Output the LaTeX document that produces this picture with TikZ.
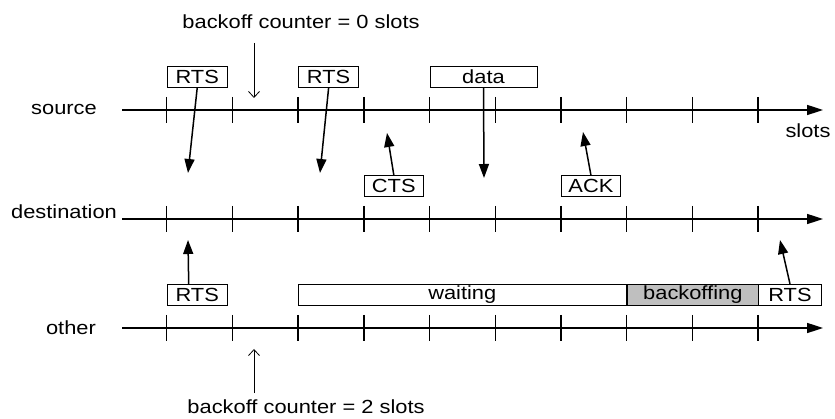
\documentclass[tikz,border=0pt]{standalone}
\usepackage{fontspec}
\setmainfont{Liberation Sans}[FakeStretch=1.15]
\usepackage{tikz}
\usetikzlibrary{arrows.meta}
\tikzset{
    time-axis/.style = {line width=1.6pt, -{Triangle[length=16pt,width=10pt]}},
    slot-tick/.style = {line width=1.4pt},
    msg-box/.style = {draw, line width=1pt, rectangle, inner sep=0pt, minimum height=21pt, anchor=south west},
    busy-box/.style = {msg-box, fill=black!25},
    msg-arrow/.style = {line width=1.5pt, -{Triangle[length=14pt,width=10pt]}},
    note-arrow/.style = {line width=0.8pt, -{Straight Barb[length=6pt,width=11pt]}},
}

\begin{document}
\begin{tikzpicture}[x=1pt, y=-1pt, font=\fontsize{19pt}{22pt}\selectfont]
\useasboundingbox (0,0) rectangle (835,419);
\def\slotw{65.7}
\foreach \row/\y in {src/110, dst/219, oth/328} {
    \draw[time-axis] (122,\y) -- (823,\y);
    \foreach \i in {0,...,9} {
        \draw[slot-tick] ({166.7+\slotw*\i},\y-13) -- ++(0,26);
        \coordinate (\row-\i) at ({166.7+\slotw*\i},\y-22);
    }
}
\node (src-label) at (64,109) {source};
\node (dst-label) at (64,212) {destination};
\node (oth-label) at (71,328) {other};
\node (slots-label) at (808,131) {slots};

% source
\node[msg-box, minimum width=60pt] (src-rts1) at (src-0) {RTS};
\node[msg-box, minimum width=60pt] (src-rts2) at (src-2) {RTS};
\node[msg-box, minimum width=107pt] (src-data) at (src-4) {data};
% destination
\node[msg-box, minimum width=59pt] (dst-cts) at (dst-3) {CTS};
\node[msg-box, minimum width=59pt] (dst-ack) at (dst-6) {ACK};
% other
\node[msg-box, minimum width=60pt] (oth-rts1) at (oth-0) {RTS};
\node[msg-box, minimum width=327.4pt] (oth-wait) at (oth-2) {waiting};
\node[busy-box, minimum width=131.4pt] (oth-backoff) at (oth-7) {backoffing};
\node[msg-box, minimum width=63pt] (oth-rts2) at (oth-9) {RTS};

\coordinate (rts1-end) at (188,173);
\coordinate (rts2-end) at (320,173);
\coordinate (cts-end) at (387,133);
\coordinate (data-end) at (484,178);
\coordinate (ack-end) at (583,132);
\coordinate (oth-rts1-end) at (188,240);
\coordinate (oth-rts2-end) at (780,240);
\draw[msg-arrow] (src-rts1.south) -- (rts1-end);
\draw[msg-arrow] (src-rts2.south) -- (rts2-end);
\draw[msg-arrow] (dst-cts.north) -- (cts-end);
\draw[msg-arrow] (src-data.south) -- (data-end);
\draw[msg-arrow] (dst-ack.north) -- (ack-end);
\draw[msg-arrow] ([xshift=-8.5pt]oth-rts1.north) -- (oth-rts1-end);
\draw[msg-arrow] (oth-rts2.north) -- (oth-rts2-end);

% backoff counters
\node (bo0-label) at (301,22) {backoff counter = 0 slots};
\node (bo2-label) at (306,407) {backoff counter = 2 slots};
\coordinate (bo0-start) at (254,43);
\coordinate (bo0-end) at (254,98);
\coordinate (bo2-start) at (254,393);
\coordinate (bo2-end) at (254,349);
\draw[note-arrow] (bo0-start) -- (bo0-end);
\draw[note-arrow] (bo2-start) -- (bo2-end);
\end{tikzpicture}
\end{document}
